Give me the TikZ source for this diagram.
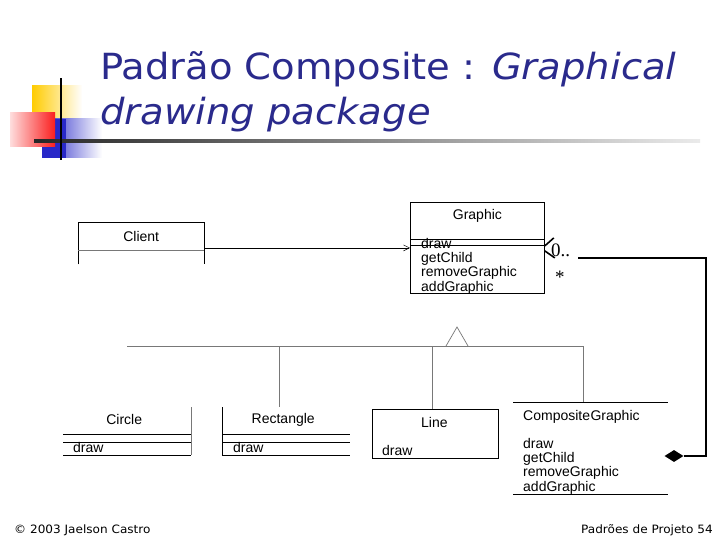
\documentclass[tikz,border=0pt]{standalone}
\usepackage{fontspec}
\setmainfont{Liberation Sans}
\newfontfamily\titlefont{DejaVu Sans}
\newfontfamily\serfont{Liberation Serif}
\usetikzlibrary{shapes.geometric,fadings,arrows.meta}
\definecolor{titleblue}{RGB}{42,42,140}
\definecolor{logoyellow}{RGB}{255,204,0}
\definecolor{logored}{RGB}{250,30,30}
\definecolor{logoblue}{RGB}{40,40,200}
\definecolor{connGray}{RGB}{120,120,120}
\begin{document}
\begin{tikzpicture}[x=1pt,y=-1pt,
  classbox/.style={rectangle,inner sep=0pt,anchor=north west},
  lbl/.style={inner sep=0pt,font=\fontsize{14}{14.3}\selectfont},
  meth/.style={inner sep=0pt,anchor=north west,align=left,font=\fontsize{14}{14.3}\selectfont},
  edge/.style={line width=0.8pt,black},
  sep/.style={line width=0.6pt,connGray},
  inh/.style={line width=0.7pt,connGray},
  comp/.style={line width=2.2pt,black}]
\useasboundingbox (0,0) rectangle (720,540);
\fill[white] (0,0) rectangle (720,540);

% logo
\fill[logoyellow, path fading=east] (32,85) rectangle (82,121);
\shade[left color=logoblue, right color=white] (42,119) rectangle (102,158);
\fill[logoblue] (42,119) rectangle (66,158);
\shade[left color=logored!15, right color=logored] (10,113) rectangle (55,147);
\shade[left color=black!85, right color=black!8] (34,140) rectangle (700,142.2);
\fill[black] (59.8,78) rectangle (62.2,160);

% title
\node[anchor=base west,inner sep=0pt,text=titleblue] (t1) at (100,80)
  {\titlefont\fontsize{36}{40}\selectfont\scalebox{1.07}[1]{Padrão Composite : \textit{Graphical}}};
\node[anchor=base west,inner sep=0pt,text=titleblue] (t2) at (100,125)
  {\titlefont\fontsize{36}{40}\selectfont\scalebox{1.07}[1]{\textit{drawing package}}};

% Client
\node[classbox,minimum width=126pt,minimum height=42pt] (client) at (78,222) {};
\draw[edge] (client.south west) -- (client.north west) -- (client.north east) -- (client.south east);
\draw[sep] ([yshift=-28pt]client.north west) -- ([yshift=-28pt]client.north east);
\node[lbl] (clientname) at ([yshift=-14pt]client.north) {Client};

% Graphic
\node[classbox,draw,line width=0.8pt,minimum width=134pt,minimum height=91pt] (graphic) at (410,202) {};
\draw[edge] ([yshift=-37pt]graphic.north west) -- ([yshift=-37pt]graphic.north east);
\draw[edge] ([yshift=-43pt]graphic.north west) -- ([yshift=-43pt]graphic.north east);
\node[lbl] (graphicname) at ([yshift=-13.5pt]graphic.north) {Graphic};
\node[meth] (graphicops) at ([xshift=11pt,yshift=-36pt]graphic.north west)
  {draw\\getChild\\removeGraphic\\addGraphic};

% Client -> Graphic
\draw[line width=0.8pt,-{Straight Barb[length=6pt,width=6pt,line width=0.5pt]}] (client.east |- graphic.west) -- (graphic.west);

% Circle
\node[classbox,minimum width=128pt,minimum height=48pt] (circle) at (63,407) {};
\draw[sep] (circle.north east) -- (circle.south east);
\draw[edge] ([yshift=-27pt]circle.north west) -- ([yshift=-27pt]circle.north east);
\draw[edge] ([yshift=-35pt]circle.north west) -- ([yshift=-35pt]circle.north east);
\draw[edge] (circle.south west) -- (circle.south east);
\node[lbl] (circlename) at ([xshift=-3pt,yshift=-12.5pt]circle.north) {Circle};
\node[meth] (circleops) at ([xshift=10pt,yshift=-35.5pt]circle.north west) {draw};

% Rectangle
\node[classbox,minimum width=128pt,minimum height=48pt] (rect) at (222,407) {};
\draw[edge] (rect.north west) -- (rect.south west);
\draw[edge] ([yshift=-27pt]rect.north west) -- ([yshift=-27pt]rect.north east);
\draw[edge] ([yshift=-35pt]rect.north west) -- ([yshift=-35pt]rect.north east);
\draw[edge] (rect.south west) -- (rect.south east);
\node[lbl] (rectname) at ([xshift=-3pt,yshift=-12.5pt]rect.north) {Rectangle};
\node[meth] (rectops) at ([xshift=11pt,yshift=-35.5pt]rect.north west) {draw};

% Line
\node[classbox,draw,line width=0.8pt,minimum width=126pt,minimum height=49pt] (line) at (372,409) {};
\node[lbl] (linename) at ([xshift=-1pt,yshift=-13.5pt]line.north) {Line};
\node[meth] (lineops) at ([xshift=10pt,yshift=-36pt]line.north west) {draw};

% CompositeGraphic
\node[classbox,minimum width=155pt,minimum height=92pt] (compg) at (513,402) {};
\draw[edge] (compg.north west) -- (compg.north east);
\draw[edge] (compg.south west) -- (compg.south east);
\node[meth] (compgname) at ([xshift=10pt,yshift=-8pt]compg.north west) {Composite\kern0.5pt Graphic};
\node[meth] (compgops) at ([xshift=10pt,yshift=-36pt]compg.north west)
  {draw\\getChild\\removeGraphic\\addGraphic};

% inheritance
\coordinate (apex) at (457,327);
\coordinate (busL) at (127,346);
\coordinate (busR) at ([xshift=-7.5pt]compg.north |- busL);
\draw[inh] ([xshift=-11pt]apex |- busL) -- (apex) -- ([xshift=11pt]apex |- busL);
\draw[inh] (busL) -- (busR) -- ([xshift=-7.5pt]compg.north);
\draw[inh] ([xshift=-7pt]rect.north |- busL) -- ([xshift=-7pt]rect.north);
\draw[inh] ([xshift=-3pt]line.north |- busL) -- ([xshift=-3pt]line.north);

% composition
\node[diamond,fill=black,inner sep=0pt,minimum width=19pt,minimum height=12pt] (dia) at (674,456) {};
\coordinate (cA) at (706,456);
\coordinate (cB) at (706,258);
\coordinate (cC) at (578,258);
\draw[comp,line join=miter] (dia.east) -- (cA) -- (cB) -- (cC);
\draw[line width=1.6pt] ([yshift=2pt]graphic.east) -- ++(9,-8);
\draw[line width=1.6pt] ([yshift=-3pt]graphic.east) -- ++(10,7);
\node[anchor=base west,inner sep=0pt,font=\serfont\fontsize{19}{20}\selectfont] (mult) at (551,256) {0..};
\node[anchor=base west,inner sep=0pt,font=\serfont\fontsize{19}{20}\selectfont] (star) at (555,283) {*};

% footer
\node[anchor=base west,inner sep=0pt,font=\titlefont\fontsize{11.5}{13}\selectfont] (foot1) at (14,533) {\scalebox{1.05}[1]{© 2003 Jaelson Castro}};
\node[anchor=base east,inner sep=0pt,font=\titlefont\fontsize{11.5}{13}\selectfont] (foot2) at (713,533) {\scalebox{1.05}[1]{Padrões de Projeto 54}};
\end{tikzpicture}
\end{document}
